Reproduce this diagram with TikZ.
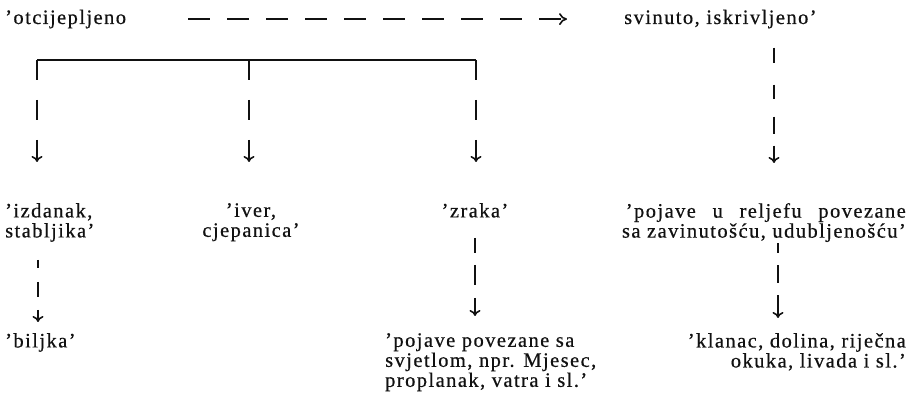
\documentclass[tikz,border=0pt]{standalone}
\usepackage{fontspec}
\setmainfont{Liberation Serif}[LetterSpace=7,FakeBold=0.5]
\usepackage{tikz}
\usetikzlibrary{arrows.meta,calc,positioning}
\definecolor{ScanInk}{HTML}{111111}
\tikzset{
  gloss/.style={
    inner sep=0pt,
    text=ScanInk,
    font=\fontsize{20.5}{20}\selectfont
  },
  link/.style={
    draw=ScanInk,
    line width=1.6pt
  },
  downlink/.style={
    link,
    -{To[length=6pt,width=11pt]}
  },
  sidelink/.style={
    link,
    dash pattern=on 22pt off 17pt,
    -{To[length=8pt,width=12pt]}
  }
}
\begin{document}
\begin{tikzpicture}[x=1pt,y=-1pt]
  \useasboundingbox (0,0) rectangle (908,395);
  % top row
  \node[gloss,anchor=base west] (src) at (5,24) {'otcijepljeno};
  \node[gloss,anchor=base west] (bent) at (624,24) {svinuto, iskrivljeno'};
  \draw[sidelink,shorten <=62pt,shorten >=57pt] (src.east) -- (bent.west);
  % second row
  \node[gloss,anchor=north west,align=left] (sprout) at (5,203) {'izdanak,\\stabljika'};
  \node[gloss,anchor=north,align=center] (splinter) at (251,203) {'iver,\\cjepanica'};
  \node[gloss,anchor=north] (ray) at (475,203) {'zraka'};
  \node[gloss,anchor=north east,align=right] (relief) at (906,203) {\hbox to 280pt{'pojave\hfill u\hfill reljefu\hfill povezane}\\sa zavinutošću, udubljenošću'};
  % third row
  \node[gloss,anchor=north west] (plant) at (5,333) {'biljka'};
  \node[gloss,anchor=north west,align=left] (light) at (385,333) {'pojave povezane sa\\svjetlom, npr. Mjesec,\\proplanak, vatra i sl.'};
  \node[gloss,anchor=north east,align=right] (valley) at (906,333) {'klanac, dolina, riječna\\okuka, livada i sl.'};
  % bracket
  \coordinate (fl) at (37,60);
  \coordinate (fm) at (249,60);
  \coordinate (fr) at (476,60);
  \coordinate (rx) at (774,0);
  \coordinate (lx) at (38,0);
  \coordinate (mx) at (475,0);
  \coordinate (vx) at (778,0);
  \draw[link,line width=1.4pt] (fl) -- (fr);
  \draw[downlink,dash pattern=on 20pt off 20pt,shorten >=41pt] (fl) -- (fl |- sprout.north);
  \draw[downlink,dash pattern=on 20pt off 20pt,shorten >=41pt] (fm) -- (fm |- splinter.north);
  \draw[downlink,dash pattern=on 20pt off 20pt,shorten >=41pt] (fr) -- (fr |- ray.north);
  \draw[downlink,dash pattern=on 15pt off 22pt on 14pt off 18pt on 17pt off 12pt on 40pt,shorten <=19pt,shorten >=40pt] (bent.south -| rx) -- (relief.north -| rx);
  % lower links
  \draw[downlink,dash pattern=on 8pt off 14pt on 15pt off 13pt on 40pt,shorten <=18pt,shorten >=11pt] (sprout.south -| lx) -- (plant.north -| lx);
  \draw[downlink,dash pattern=on 15pt off 12pt on 20pt off 13pt on 40pt,shorten <=20pt,shorten >=17pt] (ray.south -| mx) -- (light.north -| mx);
  \draw[downlink,dash pattern=on 10pt off 12pt on 18pt off 12pt on 40pt,shorten <=1pt,shorten >=15pt] (relief.south -| vx) -- (valley.north -| vx);
\end{tikzpicture}
\end{document}
